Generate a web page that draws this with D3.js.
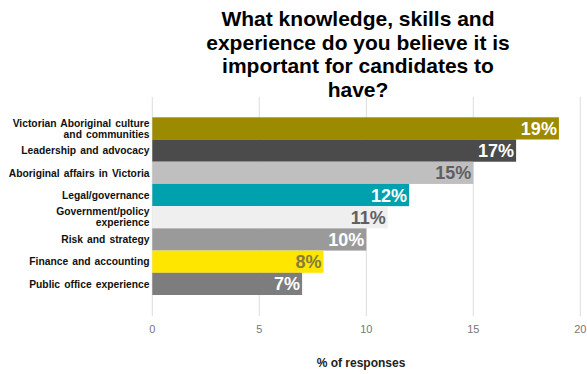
<!DOCTYPE html>
<html>
<head>
<meta charset="utf-8">
<script src="https://cdn.jsdelivr.net/npm/d3@7"></script>
<style>
  html, body { margin: 0; padding: 0; background: #fff; }
  svg { display: block; font-family: Arial, "Liberation Sans", sans-serif; }
</style>
</head>
<body>
<svg id="chart" width="587" height="374"></svg>
<script>
// Survey responses: share of answers per knowledge/skill area
const categories = [
  ["Victorian Aboriginal culture", "and communities"],
  ["Leadership and advocacy"],
  ["Aboriginal affairs in Victoria"],
  ["Legal/governance"],
  ["Government/policy", "experience"],
  ["Risk and strategy"],
  ["Finance and accounting"],
  ["Public office experience"]
];
const values = [19, 17, 15, 12, 11, 10, 8, 7];
const barColors = ["#9c8a00", "#4b4b4b", "#bfbfbf", "#00a1ae", "#efefef", "#9a9a9a", "#ffe600", "#7d7d7d"];
const labelColors = ["#ffffff", "#ffffff", "#5f5f5f", "#ffffff", "#606060", "#ffffff", "#857d3a", "#ffffff"];
const xTicks = [0, 5, 10, 15, 20];
const titleLines = ["What knowledge, skills and", "experience do you believe it is", "important for candidates to", "have?"];
const xTitle = "% of responses";

const svg = d3.select("#chart");

const x = d3.scaleLinear().domain([0, 20]).range([152.3, 580.3]);
const y = d3.scaleBand()
  .domain(d3.range(values.length))
  .range([117.3, 295])
  .padding(0);

const gridTop = 97, gridBottom = 316;

// Vertical gridlines
svg.append("g")
  .selectAll("line")
  .data(xTicks)
  .join("line")
  .attr("x1", d => x(d)).attr("x2", d => x(d))
  .attr("y1", gridTop).attr("y2", gridBottom)
  .attr("stroke", "#dcdcdc")
  .attr("stroke-width", 1);

// Tick labels
svg.append("g")
  .selectAll("text")
  .data(xTicks)
  .join("text")
  .attr("x", d => x(d))
  .attr("y", 333)
  .attr("text-anchor", "middle")
  .attr("font-size", 11)
  .attr("fill", "#777")
  .text(d => d);

// Bars
svg.append("g")
  .selectAll("rect")
  .data(values)
  .join("rect")
  .attr("x", x(0))
  .attr("y", (d, i) => y(i))
  .attr("width", d => x(d) - x(0))
  .attr("height", y.bandwidth())
  .attr("fill", (d, i) => barColors[i]);

// Value labels inside bar ends
svg.append("g")
  .selectAll("text")
  .data(values)
  .join("text")
  .attr("x", d => x(d) - 2)
  .attr("y", (d, i) => y(i) + y.bandwidth() / 2 + 6.5)
  .attr("text-anchor", "end")
  .attr("font-size", 18)
  .attr("font-weight", "bold")
  .attr("fill", (d, i) => labelColors[i])
  .text(d => d + "%");

// Category labels
const catG = svg.append("g");
categories.forEach((lines, i) => {
  const cy = y(i) + y.bandwidth() / 2;
  const lh = 11;
  const t = catG.append("text")
    .attr("text-anchor", "end")
    .attr("font-size", 10.3)
    .attr("font-weight", "bold")
    .attr("word-spacing", 1.2)
    .attr("fill", "#111");
  lines.forEach((ln, j) => {
    t.append("tspan")
      .attr("x", 149.5)
      .attr("y", cy + 3.7 + (j - (lines.length - 1) / 2) * lh)
      .text(ln);
  });
});

// Title
const title = svg.append("text")
  .attr("text-anchor", "middle")
  .attr("font-size", 21)
  .attr("font-weight", "bold")
  .attr("fill", "#000");
titleLines.forEach((ln, j) => {
  title.append("tspan")
    .attr("x", 358)
    .attr("y", 26 + j * 23.5)
    .text(ln);
});

// Axis title
svg.append("text")
  .attr("x", 361)
  .attr("y", 367)
  .attr("text-anchor", "middle")
  .attr("font-size", 12)
  .attr("font-weight", "bold")
  .attr("fill", "#222")
  .text(xTitle);
</script>
</body>
</html>
